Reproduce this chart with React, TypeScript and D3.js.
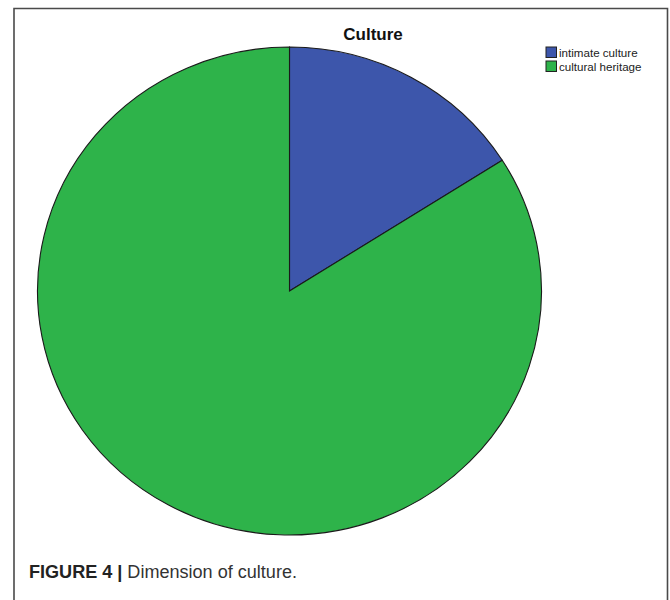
import React from "react";
import * as d3 from "d3";

const categories = ["intimate culture", "cultural heritage"];
const values = [16, 84];
const colors = ["#3d56ab", "#2eb34a"];
const title = "Culture";
const captionBold = "FIGURE 4 | ";
const captionText = "Dimension of culture.";

export default function App() {
  const W = 670, H = 600;
  const cx = 289.5, cy = 291, rx = 252, ry = 244;
  const pie = d3.pie<number>().sort(null).value((d) => d)(values);
  const arc = d3.arc<d3.PieArcDatum<number>>().innerRadius(0).outerRadius(rx);
  return (
    <svg width={W} height={H} style={{ position: "absolute", left: 0, top: 0 }}>
      <rect width={W} height={H} fill="#fff" />
      <path d={`M14,${H + 5} L14,8.5 L667.5,8.5 L667.5,${H + 5}`} fill="none" stroke="#4a4a4a" strokeWidth={1.6} />
      <text x={373} y={39.5} textAnchor="middle" fontFamily="Liberation Sans, Arial, sans-serif" fontWeight="bold" fontSize={17} fill="#111">
        {title}
      </text>
      <g transform={`translate(${cx},${cy}) scale(1,${ry / rx})`}>
        {pie.map((p, i) => (
          <path key={i} d={arc(p) || ""} fill={colors[i]} stroke="#1a1a1a" strokeWidth={1.1} vectorEffect="non-scaling-stroke" />
        ))}
      </g>
      {categories.map((c, i) => (
        <g key={c} transform={`translate(546,${47 + i * 14})`}>
          <rect x={0} y={0} width={10.5} height={10.5} fill={colors[i]} stroke="#222" strokeWidth={1} />
          <text x={13} y={9.5} fontFamily="Liberation Sans, Arial, sans-serif" fontSize={11.6} fill="#222">
            {c}
          </text>
        </g>
      ))}
      <text x={29} y={577.5} fontFamily="Liberation Sans, Arial, sans-serif" fontSize={17.5} fill="#333" textLength={268} lengthAdjust="spacingAndGlyphs">
        <tspan fontWeight="bold" fill="#222">{captionBold}</tspan>
        <tspan>{captionText}</tspan>
      </text>
    </svg>
  );
}
